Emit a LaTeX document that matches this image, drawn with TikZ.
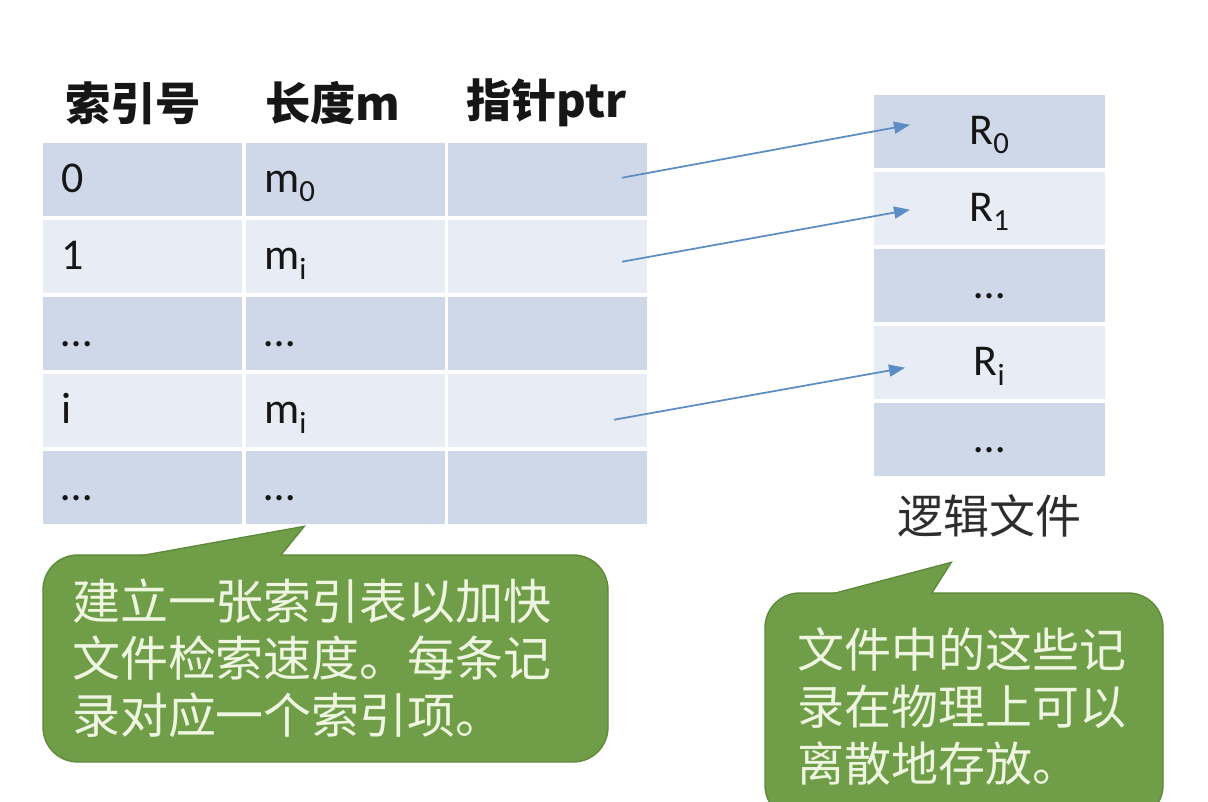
\documentclass[tikz,border=0pt]{standalone}
\usepackage{fontspec}
\setmainfont{Carlito}
\newfontfamily\cjk{Noto Sans CJK SC}
\usetikzlibrary{arrows.meta,positioning}
\definecolor{ink}{RGB}{22,22,22}
\definecolor{rowdark}{RGB}{206,216,232}
\definecolor{rowlight}{RGB}{232,237,245}
\definecolor{linkblue}{RGB}{91,140,195}
\definecolor{notegreen}{RGB}{112,158,72}
\definecolor{noteedge}{RGB}{94,136,58}
\definecolor{notetext}{RGB}{238,245,224}
\tikzset{
  ptr/.style={-{Triangle[length=12pt,width=9pt]},line width=1.3pt,draw=linkblue},
  cell/.style={outer sep=0pt,inner xsep=14pt,inner ysep=0pt,minimum width=149.25pt,minimum height=55.125pt,text width=121.25pt,align=left,text height=24pt,text depth=4.5pt,font=\fontsize{33}{38}\selectfont,text=ink},
  darkrow/.style={cell,fill=rowdark},
  lightrow/.style={cell,fill=rowlight},
  rec/.style={outer sep=0pt,inner sep=0pt,minimum width=173.25pt,minimum height=55.125pt,text height=24pt,text depth=4.5pt,font=\fontsize{33}{38}\selectfont,text=ink},
  head/.style={inner sep=0pt,anchor=west,font=\cjk\bfseries\fontsize{34}{40}\selectfont,text=ink},
  note/.style={draw=noteedge,line width=1pt,fill=notegreen,rounded corners=26pt,align=left,text=notetext,inner ysep=0pt},
  tail/.style={draw=noteedge,line width=1pt,fill=notegreen,line join=miter}
}
\begin{document}
\begin{tikzpicture}[x=0.75pt,y=0.75pt,node distance=2.625pt and 2.625pt]
  \fill[white] (0,0) rectangle (1208,802);
  \clip (0,0) rectangle (1208,802);
  % index table
  \node[head] (h0) at (65,699) {索引号};
  \node[head] (h1) at (265,699) {长度m};
  \node[head] (h2) at (466,699) {指针ptr};
  \node[darkrow] (i0) at (142.5,622.25) {0};
  \node[darkrow,right=of i0] (m0) {m\textsubscript{0}};
  \node[darkrow,right=of m0] (p0) {};
  \node[lightrow,below=of i0] (i1) {1};
  \node[lightrow,right=of i1] (m1) {m\textsubscript{i}};
  \node[lightrow,right=of m1] (p1) {};
  \node[darkrow,below=of i1] (i2) {…};
  \node[darkrow,right=of i2] (m2) {…};
  \node[darkrow,right=of m2] (p2) {};
  \node[lightrow,below=of i2] (i3) {i};
  \node[lightrow,right=of i3] (m3) {m\textsubscript{i}};
  \node[lightrow,right=of m3] (p3) {};
  \node[darkrow,below=of i3] (i4) {…};
  \node[darkrow,right=of i4] (m4) {…};
  \node[darkrow,right=of m4] (p4) {};
  % logical file
  \node[rec,fill=rowdark] (r0) at (989.5,670.25) {R\textsubscript{0}};
  \node[rec,fill=rowlight,below=of r0] (r1) {R\textsubscript{1}};
  \node[rec,fill=rowdark,below=of r1] (r2) {…};
  \node[rec,fill=rowlight,below=of r2] (r3) {R\textsubscript{i}};
  \node[rec,fill=rowdark,below=of r3] (r4) {…};
  \node[below=13pt of r4,inner sep=0pt,font=\cjk\fontsize{34.5}{40}\selectfont,text=ink!90] (lfile) {逻辑文件};
  \draw[ptr] ([shift={(-25,2)}]p0.east) -- ([shift={(36,7)}]r0.west);
  \draw[ptr] ([shift={(-25,-5)}]p1.east) -- ([shift={(36,-1)}]r1.west);
  \draw[ptr] ([shift={(-33,-9)}]p3.east) -- ([shift={(31,-5)}]r3.west);
  % callouts
  \node[note,minimum width=423.75pt,minimum height=155.25pt,inner xsep=21.75pt,text width=380.25pt,font=\cjk\fontsize{36}{42.75}\selectfont] (tip1) at (325.5,143.5) {建立一张索引表以加快\\文件检索速度。每条记\\录对应一个索引项。};
  \coordinate (t1l) at ([shift={(98,-1.5)}]tip1.north west);
  \coordinate (t1a) at ([shift={(262,28)}]tip1.north west);
  \coordinate (t1r) at ([shift={(238,-1.5)}]tip1.north west);
  \filldraw[tail] (t1l) -- (t1a) -- (t1r);
  \node[note,minimum width=298.5pt,minimum height=170.25pt,inner xsep=24pt,text width=250.5pt,font=\cjk\fontsize{35.25}{42.4}\selectfont] (tip2) at (964,95.5) {文件中的这些记\\录在物理上可以\\离散地存放。};
  \coordinate (t2l) at ([shift={(68,-1.5)}]tip2.north west);
  \coordinate (t2a) at ([shift={(187,30)}]tip2.north west);
  \coordinate (t2r) at ([shift={(167,-1.5)}]tip2.north west);
  \filldraw[tail] (t2l) -- (t2a) -- (t2r);
\end{tikzpicture}
\end{document}
